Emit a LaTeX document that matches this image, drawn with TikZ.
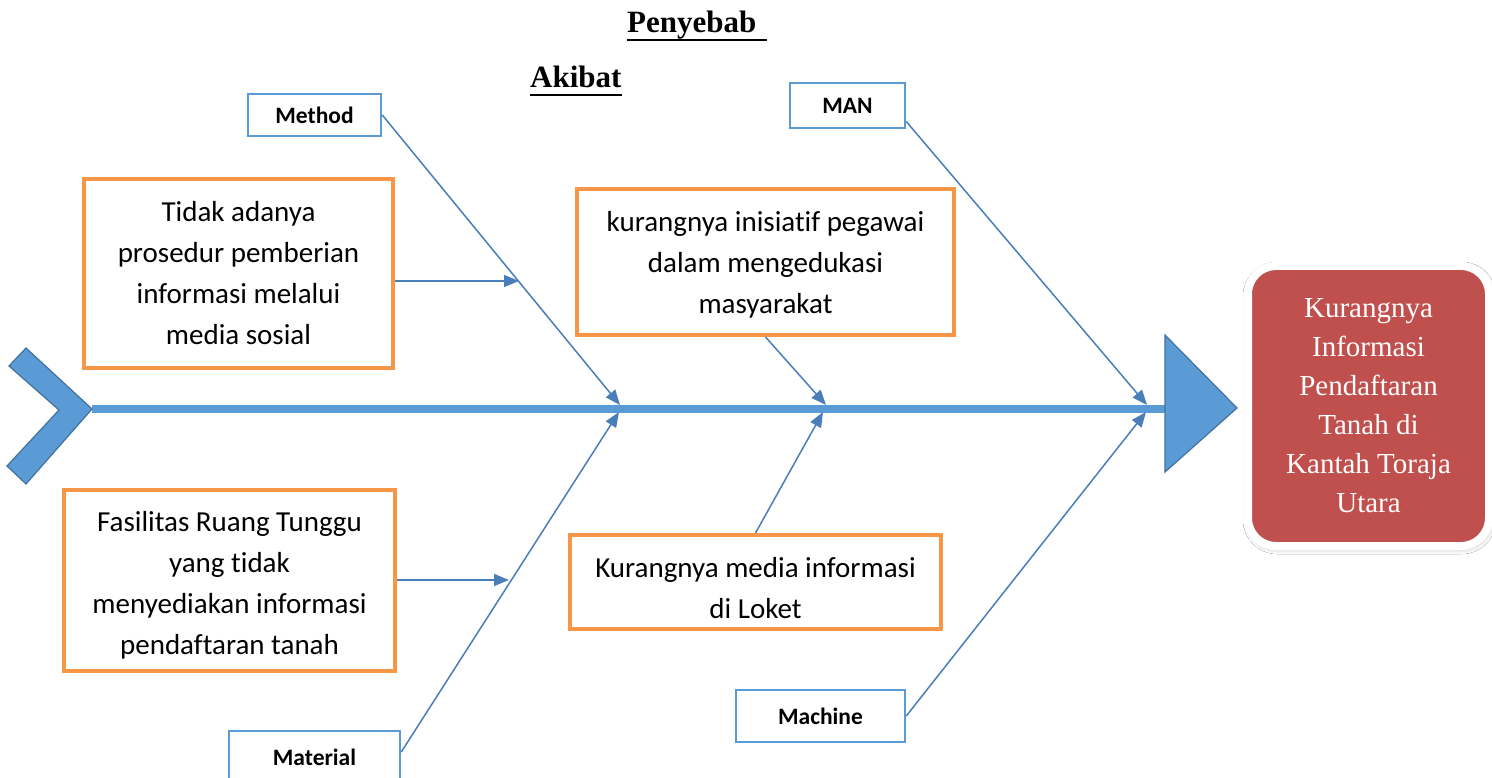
\documentclass[tikz,border=0pt]{standalone}
\usepackage{fontspec}
\setmainfont{Liberation Serif}
\newfontfamily\carlito[Ligatures={NoCommon,NoDiscretionary,NoRare}]{Carlito}
\usetikzlibrary{arrows.meta,calc,shadows.blur}
\definecolor{spine}{HTML}{5B9BD5}
\definecolor{spineedge}{HTML}{41719C}
\definecolor{bone}{HTML}{4A7EBB}
\definecolor{causeor}{HTML}{F79646}
\definecolor{resred}{HTML}{C0504D}
\definecolor{labelblue}{HTML}{5B9BD5}
\begin{document}
\begin{tikzpicture}[x=1pt,y=-1pt,
  catbox/.style={draw=labelblue, line width=2.5pt, fill=white, inner sep=0pt,
    font=\carlito\bfseries\fontsize{23.5}{27}\selectfont},
  causebox/.style={draw=causeor, line width=4pt, fill=white, inner sep=0pt, align=center,
    font=\carlito\fontsize{29}{41}\selectfont},
  bonearrow/.style={draw=bone, line width=1.5pt, -{Triangle[length=15pt,width=12pt]}},
  titletext/.style={inner sep=0pt, anchor=base west, font=\bfseries\fontsize{31}{36}\selectfont},
  resultbox/.style={draw=white, line width=8pt, fill=resred, rounded corners=28pt,
    minimum width=241pt, minimum height=280pt, inner sep=0pt, align=center, text=white,
    font=\fontsize{29}{39}\selectfont,
    blur shadow={shadow xshift=1pt, shadow yshift=-2pt, shadow blur radius=6pt, shadow opacity=35}},
  ]
\clip (0,0) rectangle (1492,778);
\fill[white] (0,0) rectangle (1492,778);

% titles
\node[titletext] (ttl1) at (627,33) {Penyebab};
\draw[line width=2.5pt] ($(ttl1.base west)+(0,7)$) -- ($(ttl1.base east)+(10,7)$);
\node[titletext] (ttl2) at (530,88) {Akibat};
\draw[line width=2.5pt] ($(ttl2.base west)+(0,7)$) -- ($(ttl2.base east)+(0,7)$);

% spine
\coordinate (tail) at (92,409);
\coordinate (head) at (1166,409);
\draw[spine, line width=8pt] (tail) -- (head);
\filldraw[fill=spine, draw=spineedge, line width=1.2pt, line join=miter]
  (26,348) -- (92,409) -- (26,484) -- (7,466) -- (59,410) -- (9,366) -- cycle;
\filldraw[fill=spine, draw=spineedge, line width=1.2pt]
  (1165,335) -- (1237,408) -- (1165,472) -- cycle;

% joints on the spine
\coordinate (j1t) at (620,405);
\coordinate (j1b) at (619,412);
\coordinate (j2t) at (826,405);
\coordinate (j2b) at (823,412);
\coordinate (j3t) at (1147,405);
\coordinate (j3b) at (1146,412);
\coordinate (p1) at (519,281);
\coordinate (p3) at (509,580);

% category boxes
\node[catbox, minimum width=133pt, minimum height=42pt] (method) at (314.5,115) {Method};
\node[catbox, minimum width=115pt, minimum height=45pt] (man) at (847.5,105.5) {MAN};
\node[catbox, minimum width=169pt, minimum height=52pt] (machine) at (820.5,716) {Machine};
\node[catbox, minimum width=171pt, minimum height=52pt] (material) at (314.5,757) {Material};

% cause boxes
\node[causebox, minimum width=309pt, minimum height=189pt] (c1) at (238.5,273.5)
  {Tidak adanya\\prosedur pemberian\\informasi melalui\\media sosial};
\node[causebox, minimum width=377pt, minimum height=146pt] (c2) at (765.5,262)
  {\rule{0pt}{25pt}kurangnya inisiatif pegawai\\dalam mengedukasi\\masyarakat};
\node[causebox, minimum width=331pt, minimum height=181pt] (c3) at (229.5,580.5)
  {\rule{0pt}{30pt}Fasilitas Ruang Tunggu\\yang tidak\\menyediakan informasi\\pendaftaran tanah};
\node[causebox, minimum width=371pt, minimum height=94pt] (c4) at (755.5,582)
  {\rule{0pt}{32pt}Kurangnya media informasi\\di Loket};

% result
\node[resultbox] (result) at (1368.5,406)
  {Kurangnya\\Informasi\\Pendaftaran\\Tanah di\\Kantah Toraja\\Utara};

% bones
\draw[bonearrow] (method.east) -- (j1t);
\draw[bonearrow] ($(man.east)+(0,16)$) -- (j3t);
\draw[bonearrow] ($(material.east)+(0,-5)$) -- (j1b);
\draw[bonearrow] (machine.east) -- (j3b);
\draw[bonearrow] (c1.east |- p1) -- (p1);
\draw[bonearrow] (c3.east |- p3) -- (p3);
\draw[bonearrow] (c2.south) -- (j2t);
\draw[bonearrow] (c4.north) -- (j2b);
\end{tikzpicture}
\end{document}
